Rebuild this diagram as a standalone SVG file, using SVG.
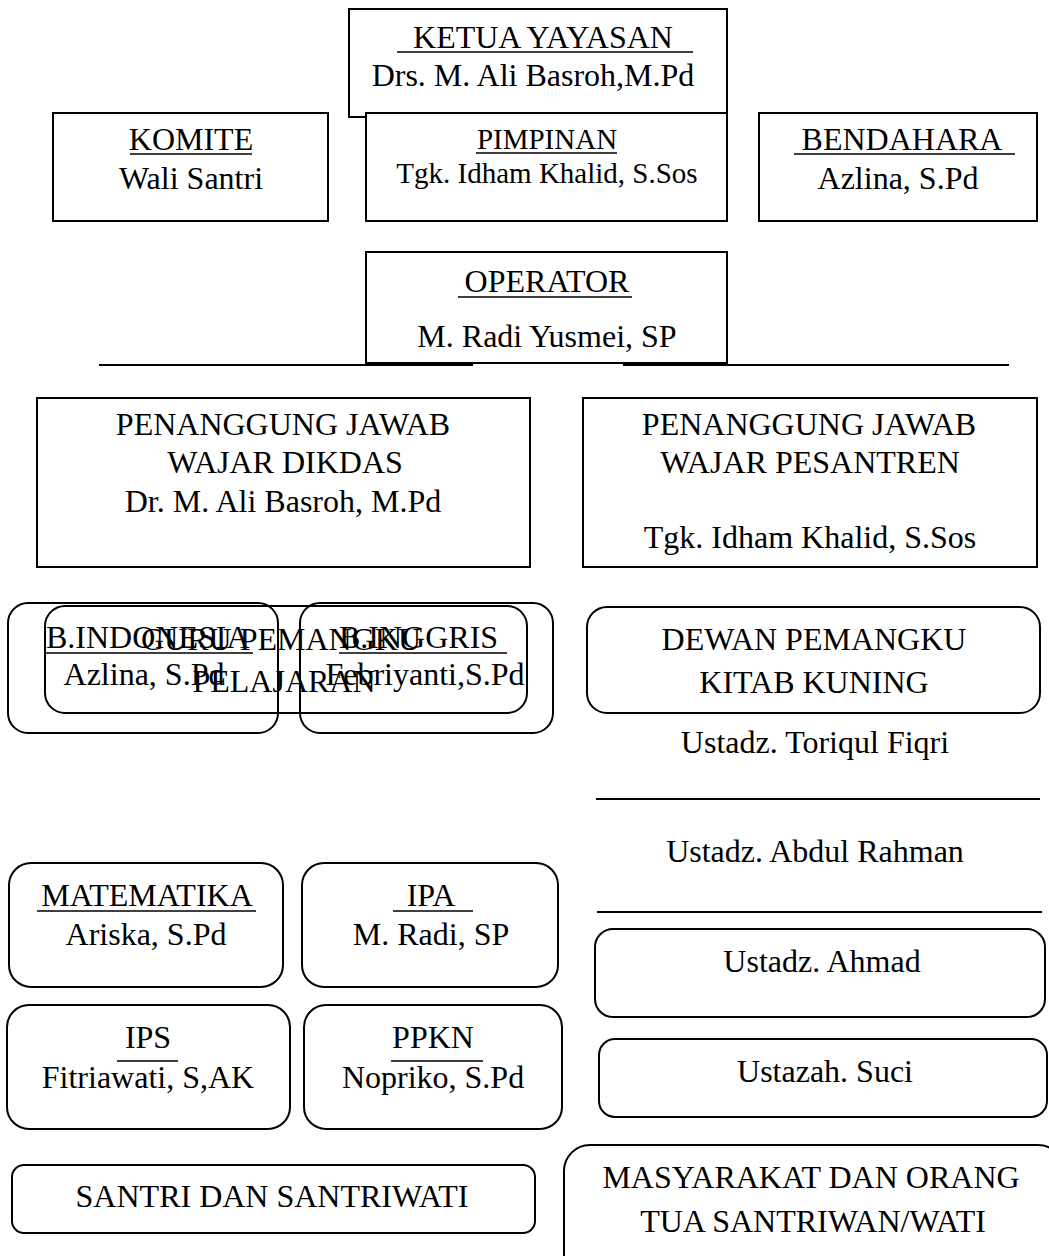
<svg xmlns="http://www.w3.org/2000/svg" width="1049" height="1256" viewBox="0 0 1049 1256">
<style>
rect{fill:#fff;stroke:#000;stroke-width:2}
.open{fill:none}
text{font-family:"Liberation Serif","Times New Roman",serif;font-size:32px;fill:#000;text-anchor:middle}
.s{font-size:29px}
.st{text-anchor:start}
line{stroke:#000;stroke-width:2}
.ul{stroke-width:1.6}
</style>
<rect x="0" y="0" width="1049" height="1256" style="stroke:none"/>
<g id="connectors">
<line x1="99" y1="365" x2="473" y2="365"/>
<line x1="623" y1="365" x2="1009" y2="365"/>
<line x1="596" y1="799" x2="1040" y2="799"/>
<line x1="597" y1="912" x2="1042" y2="912"/>
</g>
<g id="ketua">
<rect x="349" y="9" width="378" height="108"/>
<text x="543" y="48">KETUA YAYASAN</text><line class="ul" x1="397" y1="52" x2="693" y2="52"/>
<text x="533" y="86">Drs. M. Ali Basroh,M.Pd</text>
</g>
<g id="komite">
<rect x="53" y="113" width="275" height="108"/>
<text x="191" y="150">KOMITE</text><line class="ul" x1="130" y1="154" x2="252" y2="154"/>
<text x="191" y="189">Wali Santri</text>
</g>
<g id="pimpinan">
<rect x="366" y="113" width="361" height="108"/>
<text class="s" x="547" y="149">PIMPINAN</text><line class="ul" x1="476" y1="153" x2="617" y2="153"/>
<text class="s" x="547" y="183">Tgk. Idham Khalid, S.Sos</text>
</g>
<g id="bendahara">
<rect x="759" y="113" width="278" height="108"/>
<text x="902" y="150">BENDAHARA</text><line class="ul" x1="794" y1="154" x2="1015" y2="154"/>
<text x="898" y="189">Azlina, S.Pd</text>
</g>
<g id="operator">
<rect x="366" y="252" width="361" height="111"/>
<text x="547" y="292">OPERATOR</text><line class="ul" x1="458" y1="297" x2="632" y2="297"/>
<text x="547" y="347">M. Radi Yusmei, SP</text>
</g>
<g id="pj-dikdas">
<rect x="37" y="398" width="493" height="169"/>
<text x="283" y="435">PENANGGUNG JAWAB</text>
<text x="285" y="473">WAJAR DIKDAS</text>
<text x="283" y="512">Dr. M. Ali Basroh, M.Pd</text>
</g>
<g id="pj-pesantren">
<rect x="583" y="398" width="454" height="169"/>
<text x="809" y="435">PENANGGUNG JAWAB</text>
<text x="810" y="473">WAJAR PESANTREN</text>
<text x="810" y="548">Tgk. Idham Khalid, S.Sos</text>
</g>
<g id="b-indonesia">
<rect class="open" x="8" y="603" width="270" height="130" rx="20"/>
<text class="st" x="46" y="648">B.INDONESIA</text><line class="ul" x1="46" y1="653" x2="253" y2="653"/>
<text x="144" y="685">Azlina, S.Pd</text>
</g>
<g id="b-inggris">
<rect class="open" x="300" y="603" width="253" height="130" rx="20"/>
<text class="st" x="339" y="648">B.INGGRIS</text><line class="ul" x1="339" y1="653" x2="507" y2="653"/>
<text x="425" y="685">Febriyanti,S.Pd</text>
</g>
<g id="guru">
<rect class="open" x="45" y="606" width="482" height="107" rx="20"/>
<text x="281" y="650">GURU PEMANGKU</text>
<text x="284" y="692">PELAJARAN</text>
</g>
<g id="dewan">
<rect x="587" y="607" width="453" height="106" rx="20"/>
<text x="814" y="650">DEWAN PEMANGKU</text>
<text x="814" y="693">KITAB KUNING</text>
</g>
<g id="toriqul"><text x="815" y="753">Ustadz. Toriqul Fiqri</text></g>
<g id="abdul"><text x="815" y="862">Ustadz. Abdul Rahman</text></g>
<g id="ahmad">
<rect x="595" y="929" width="450" height="88" rx="18"/>
<text x="822" y="972">Ustadz. Ahmad</text>
</g>
<g id="suci">
<rect x="599" y="1039" width="448" height="78" rx="16"/>
<text x="825" y="1082">Ustazah. Suci</text>
</g>
<g id="masyarakat">
<rect x="564" y="1145" width="500" height="140" rx="26"/>
<text x="811" y="1188">MASYARAKAT DAN ORANG</text>
<text x="813" y="1232">TUA SANTRIWAN/WATI</text>
</g>
<g id="matematika">
<rect x="9" y="863" width="274" height="124" rx="22"/>
<text x="147" y="906">MATEMATIKA</text><line class="ul" x1="37" y1="911" x2="256" y2="911"/>
<text x="146" y="945">Ariska, S.Pd</text>
</g>
<g id="ipa">
<rect x="302" y="863" width="256" height="124" rx="22"/>
<text x="431" y="906">IPA</text><line class="ul" x1="393" y1="911" x2="473" y2="911"/>
<text x="431" y="945">M. Radi, SP</text>
</g>
<g id="ips">
<rect x="7" y="1005" width="283" height="124" rx="22"/>
<text x="148" y="1048">IPS</text><line class="ul" x1="117" y1="1061" x2="178" y2="1061"/>
<text x="148" y="1088">Fitriawati, S,AK</text>
</g>
<g id="ppkn">
<rect x="304" y="1005" width="258" height="124" rx="22"/>
<text x="433" y="1048">PPKN</text><line class="ul" x1="391" y1="1061" x2="483" y2="1061"/>
<text x="433" y="1088">Nopriko, S.Pd</text>
</g>
<g id="santri">
<rect x="12" y="1165" width="523" height="68" rx="12"/>
<text x="272" y="1207">SANTRI DAN SANTRIWATI</text>
</g>
</svg>
